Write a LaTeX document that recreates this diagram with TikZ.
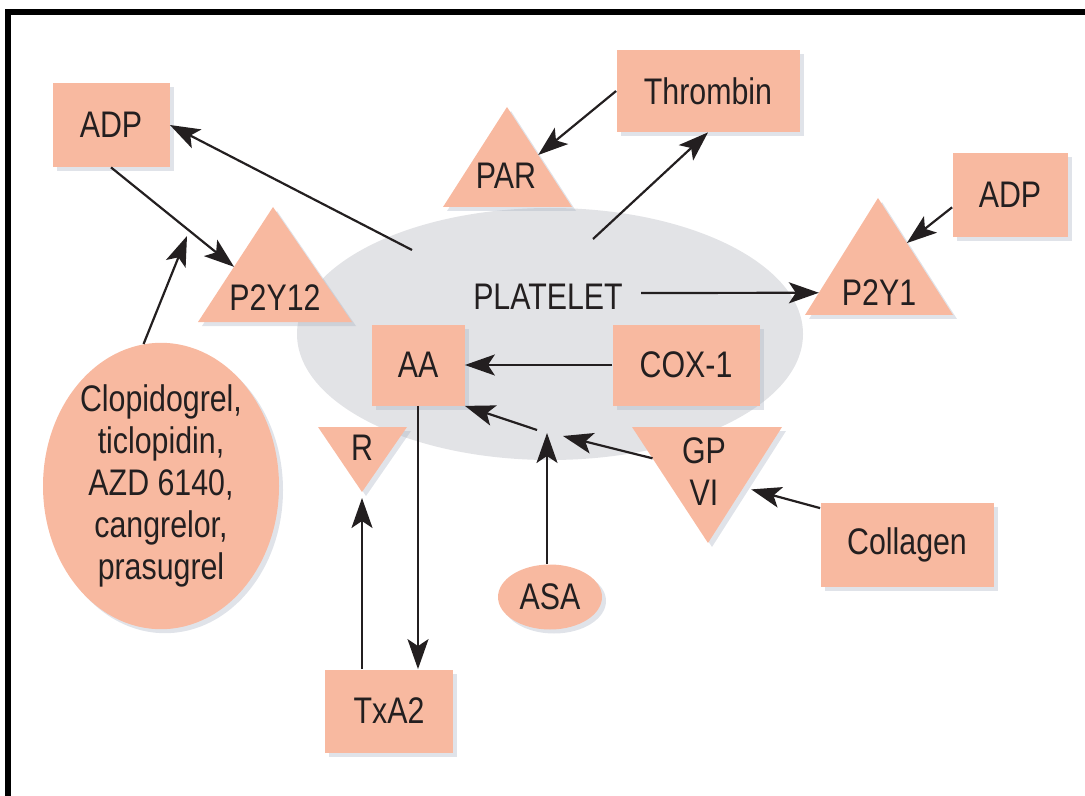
\documentclass[tikz,border=0pt]{standalone}
\usepackage{fontspec}
\setmainfont{Liberation Sans}[FakeStretch=0.82]
\usepackage{xcolor}
\usepackage{tikz}
\usetikzlibrary{positioning,arrows.meta,shapes.geometric,shadows,calc}
\definecolor{Salmon}{HTML}{F8B9A0}
\definecolor{CellGray}{HTML}{E2E3E6}
\definecolor{Ink}{HTML}{231F20}
\definecolor{Shade}{HTML}{A7B0C0}

\begin{document}
\begin{tikzpicture}[x=0.5pt, y=-0.5pt,
        txt/.style={text=Ink, font=\fontsize{18.5}{21}\selectfont, align=center, inner sep=0pt},
        soft/.style={drop shadow={shadow xshift=2pt, shadow yshift=-2pt, fill=Shade, opacity=0.35}},
        box/.style={txt, rectangle, fill=Salmon, soft},
        blob/.style={txt, ellipse, fill=Salmon, soft},
        recep/.style={fill=Salmon, soft},
        arrow/.style={draw=Ink, line width=1.1pt, -{Stealth[length=15pt, width=10.5pt, inset=3.5pt]}}
    ]
        \useasboundingbox (0,0) rectangle (1085,796);
        \draw [line width=3pt, line join=miter] (8,796) -- (8,12) -- (1085,12);

        % the cell
        \node [ellipse, fill=CellGray, minimum width=253pt, minimum height=126pt] (cell) at (550,334) {};
        \node [txt] (plt) at (548,297) {PLATELET};

        % receptors
        \coordinate (par-t) at (507,107); \coordinate (par-l) at (443,207); \coordinate (par-r) at (572,207);
        \fill [recep] (par-t) -- (par-l) -- (par-r) -- cycle;
        \node [txt] (par) at (506,176) {PAR};

        \coordinate (p2y12-t) at (273,207); \coordinate (p2y12-l) at (198,322); \coordinate (p2y12-r) at (352,322);
        \fill [recep] (p2y12-t) -- (p2y12-l) -- (p2y12-r) -- cycle;
        \node [txt] (p2y12) at (275,298) {P2Y12};

        \coordinate (p2y1-t) at (878,198); \coordinate (p2y1-l) at (805,315); \coordinate (p2y1-r) at (953,315);
        \fill [recep] (p2y1-t) -- (p2y1-l) -- (p2y1-r) -- cycle;
        \node [txt] (p2y1) at (879,293) {P2Y1};

        \coordinate (r-l) at (318,427); \coordinate (r-r) at (407,427); \coordinate (r-b) at (362,492);
        \fill [recep] (r-l) -- (r-r) -- (r-b) -- cycle;
        \node [txt] (r) at (362,448) {R};

        \coordinate (gp-l) at (632,427); \coordinate (gp-r) at (782,427); \coordinate (gp-b) at (708,543);
        \fill [recep] (gp-l) -- (gp-r) -- (gp-b) -- cycle;
        \node [txt] (gp) at (704,472) {GP\\VI};

        % agonists and enzymes
        \node [box, minimum width=58.5pt, minimum height=42pt] (adpL) at (111,125) {ADP};
        \node [box, minimum width=91.5pt, minimum height=41pt] (thr) at (708,91) {Thrombin};
        \node [box, minimum width=57.5pt, minimum height=42pt] (adpR) at (1010,195) {ADP};
        \node [box, minimum width=46.5pt, minimum height=40.5pt] (aa) at (418,365) {AA};
        \node [box, minimum width=73.5pt, minimum height=40.5pt] (cox) at (686,365) {COX-1};
        \node [box, minimum width=86.5pt, minimum height=42pt] (col) at (907,545) {Collagen};
        \node [box, minimum width=64pt, minimum height=41.5pt] (txa2) at (389,711) {TxA2};

        % drugs
        \node [blob, minimum width=118pt, minimum height=136pt] (clop) at (161,486) {Clopidogrel,\\ticlopidin,\\AZD 6140,\\cangrelor,\\prasugrel};
        \node [blob, minimum width=52pt, minimum height=32.5pt] (asa) at (550,597) {ASA};

        \coordinate (cell-adp) at (412,250);
        \coordinate (cell-thr) at (593,239);
        \coordinate (clop-tip) at (187,236);
        \coordinate (jn) at (547,433);

        \draw [arrow] (cell-adp) -- (adpL.east);
        \draw [arrow] (adpL.south) -- ($(p2y12-t)!0.52!(p2y12-l)$);
        \draw [arrow] (clop.97) -- (clop-tip);
        \draw [arrow] (thr.west) -- ($(par-t)!0.48!(par-r)$);
        \draw [arrow] (cell-thr) -- (thr.south);
        \draw [arrow] (adpR.192) -- ($(p2y1-t)!0.385!(p2y1-r)$);
        \draw [arrow] ($(plt.east)+(18,-4)$) -- ($(p2y1-t)!0.81!(p2y1-l)$);
        \draw [arrow] (cox.west) -- (aa.east);
        \draw [arrow] ($(gp-l)!0.27!(gp-b)$) -- ($(jn)+(16,3)$);
        \draw [arrow] ($(jn)+(-10,-3)$) -- (aa.south east);
        \draw [arrow] (asa.north -| jn) -- (jn);
        \draw [arrow] (aa.south) -- (aa.south |- txa2.north);
        \draw [arrow] (r-b |- txa2.north) -- ([yshift=-3pt]r-b);
        \draw [arrow, shorten >=4pt] (col.157) -- ($(gp-r)!0.52!(gp-b)$);
    \end{tikzpicture}
\end{document}
